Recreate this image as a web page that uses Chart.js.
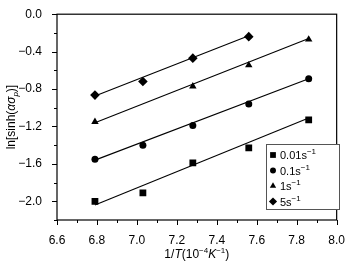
<!DOCTYPE html>
<html>
<head>
<meta charset="utf-8">
<script src="https://cdn.jsdelivr.net/npm/chart.js@4"></script>
<style>
  html, body { margin: 0; padding: 0; background: #fff; }
  #wrap { width: 350px; height: 263px; }
</style>
</head>
<body>
<div id="wrap"><canvas id="c"></canvas></div>
<script>
// inverse temperature, 10^-4 K^-1
const invT = [6.79, 7.03, 7.28, 7.56, 7.86];

// measured points per strain rate
const rate001 = [-2.00, -1.91, -1.59, -1.43, -1.13];
const rate01 = [-1.55, -1.40, -1.19, -0.96, -0.69];
const rate1x = [6.79, 7.28, 7.56, 7.86];
const rate1 = [-1.15, -0.77, -0.545, -0.27];
const rate5x = [6.79, 7.03, 7.28, 7.56];
const rate5 = [-0.865, -0.72, -0.47, -0.24];

// fitted lines, endpoints
const fit001 = [[6.79, -2.04], [7.86, -1.11]];
const fit01 = [[6.79, -1.56], [7.86, -0.69]];
const fit1 = [[6.79, -1.16], [7.86, -0.26]];
const fit5 = [[6.79, -0.875], [7.56, -0.23]];

const legendLabels = ['0.01s', '0.1s', '1s', '5s'];
const styles = ['rect', 'circle', 'triangle', 'rectRot'];
const radii = [4.8, 3.5, 4.3, 4.8];

const toPts = (xs, ys) => xs.map((x, i) => ({ x: x, y: ys[i] }));
const toLine = arr => arr.map(p => ({ x: p[0], y: p[1] }));

function pointSet(data, idx) {
  return {
    data: data, showLine: false,
    pointStyle: styles[idx], pointRadius: radii[idx],
    backgroundColor: '#000', borderColor: '#000', borderWidth: 0
  };
}
function lineSet(data) {
  return {
    data: data, showLine: true, pointRadius: 0,
    borderColor: '#000', borderWidth: 1.1
  };
}

const FONT = "'Liberation Sans', Arial, sans-serif";

// ticks, frame, legend and axis titles
const decor = {
  id: 'decor',
  afterDraw(chart) {
    const ctx = chart.ctx;
    const a = chart.chartArea;
    const xs = chart.scales.x, ys = chart.scales.y;
    ctx.save();
    ctx.strokeStyle = '#000';
    ctx.lineWidth = 1.2;
    ctx.strokeRect(a.left, a.top, a.right - a.left, a.bottom - a.top);

    ctx.lineWidth = 1;
    ctx.beginPath();
    for (let i = 0; i <= 14; i++) {
      const v = 6.6 + i * 0.1;
      const px = Math.round(xs.getPixelForValue(v)) + 0.5;
      const len = i % 2 === 0 ? 5 : 3;
      ctx.moveTo(px, a.bottom);
      ctx.lineTo(px, a.bottom + len);
    }
    for (let i = 0; i <= 11; i++) {
      const v = -i * 0.2;
      const py = Math.round(ys.getPixelForValue(v)) + 0.5;
      const len = i % 2 === 0 ? 5 : 3;
      ctx.moveTo(a.left, py);
      ctx.lineTo(a.left - len, py);
    }
    ctx.stroke();

    // legend
    const lx = 266, ly = 144, lw = 73, lh = 65;
    ctx.fillStyle = '#fff';
    ctx.fillRect(lx, ly, lw, lh);
    ctx.strokeStyle = '#555';
    ctx.lineWidth = 1;
    ctx.strokeRect(lx + 0.5, ly + 0.5, lw, lh);
    const rowY = [155, 170.5, 186, 201.5];
    legendLabels.forEach((lab, i) => {
      ctx.fillStyle = '#000';
      ctx.strokeStyle = '#000';
      Chart.helpers.drawPoint(ctx, {
        pointStyle: styles[i], radius: radii[i] * 0.85, borderWidth: 0
      }, 273, rowY[i]);
      ctx.font = '11px ' + FONT;
      ctx.textBaseline = 'middle';
      ctx.textAlign = 'left';
      ctx.fillText(lab, 280, rowY[i] + 1);
      const w = ctx.measureText(lab).width;
      ctx.font = '8px ' + FONT;
      ctx.fillText('\u22121', 280 + w, rowY[i] - 3);
    });

    // x title: 1/T(10^-4 K^-1)
    ctx.fillStyle = '#000';
    ctx.textBaseline = 'alphabetic';
    const parts = [
      ['1/', '12px', '', 0], ['T', '12px', 'italic ', 0], ['(10', '12px', '', 0],
      ['\u22124', '8px', '', -5], ['K', '12px', 'italic ', 0], ['\u22121', '8px', '', -5],
      [')', '12px', '', 0]
    ];
    let total = 0;
    parts.forEach(p => { ctx.font = p[2] + p[1] + ' ' + FONT; total += ctx.measureText(p[0]).width; });
    let cx = (a.left + a.right) / 2 - total / 2;
    parts.forEach(p => {
      ctx.font = p[2] + p[1] + ' ' + FONT;
      ctx.fillText(p[0], cx, 258 + p[3]);
      cx += ctx.measureText(p[0]).width;
    });

    // y title: ln[sinh(ασp)]
    ctx.translate(15, (a.top + a.bottom) / 2);
    ctx.rotate(-Math.PI / 2);
    const yparts = [
      ['ln[sinh(', '12px', '', 0], ['\u03b1\u03c3', '12px', 'italic ', 0],
      ['p', '8px', 'italic ', 3], [')]', '12px', '', 0]
    ];
    total = 0;
    yparts.forEach(p => { ctx.font = p[2] + p[1] + ' ' + FONT; total += ctx.measureText(p[0]).width; });
    cx = -total / 2;
    yparts.forEach(p => {
      ctx.font = p[2] + p[1] + ' ' + FONT;
      ctx.fillText(p[0], cx, p[3]);
      cx += ctx.measureText(p[0]).width;
    });
    ctx.restore();
  }
};

new Chart(document.getElementById('c'), {
  type: 'scatter',
  data: {
    datasets: [
      lineSet(toLine(fit001)),
      lineSet(toLine(fit01)),
      lineSet(toLine(fit1)),
      lineSet(toLine(fit5)),
      pointSet(toPts(invT, rate001), 0),
      pointSet(toPts(invT, rate01), 1),
      pointSet(toPts(rate1x, rate1), 2),
      pointSet(toPts(rate5x, rate5), 3)
    ]
  },
  options: {
    responsive: true,
    maintainAspectRatio: false,
    animation: false,
    layout: { padding: { top: 6, right: 9, left: 0, bottom: 0 } },
    plugins: { legend: { display: false }, tooltip: { enabled: false } },
    scales: {
      x: {
        type: 'linear', min: 6.6, max: 8.0,
        grid: { display: false },
        border: { display: false },
        afterFit: s => { s.height = 43; },
        afterBuildTicks: s => {
          s.ticks = [6.6, 6.8, 7.0, 7.2, 7.4, 7.6, 7.8, 8.0].map(v => ({ value: v }));
        },
        ticks: {
          color: '#000', padding: 5, maxRotation: 0,
          font: { size: 12, family: FONT },
          callback: v => v.toFixed(1)
        }
      },
      y: {
        type: 'linear', min: -2.2, max: 0.0,
        grid: { display: false },
        border: { display: false },
        afterFit: s => { s.width = 57; },
        afterBuildTicks: s => {
          s.ticks = [0, -0.4, -0.8, -1.2, -1.6, -2.0].map(v => ({ value: v }));
        },
        ticks: {
          color: '#000', padding: 7,
          font: { size: 12, family: FONT },
          callback: v => (v < 0 ? '\u2212' : '') + Math.abs(v).toFixed(1)
        }
      }
    }
  },
  plugins: [decor]
});
</script>
</body>
</html>
